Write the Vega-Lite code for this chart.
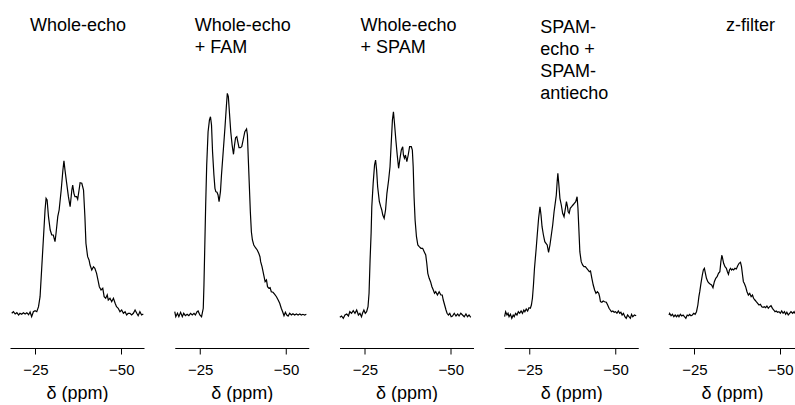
{
  "$schema": "https://vega.github.io/schema/vega-lite/v6.json",
  "padding": {"left": 9, "top": 17, "right": 0, "bottom": 0},
  "autosize": {"type": "pad"},
  "spacing": 30.75,
  "bounds": "flush",
  "config": {
    "view": {"stroke": null},
    "font": "Liberation Sans",
    "title": {"font": "Liberation Sans", "fontSize": 18, "fontWeight": "normal", "color": "black", "anchor": "start", "offset": 0, "lineHeight": 22, "frame": "group"},
    "axisX": {"grid": false, "domainColor": "black", "domainWidth": 1, "tickColor": "black", "tickWidth": 1, "tickSize": 6, "labelFont": "Liberation Sans", "labelFontSize": 15, "labelColor": "black", "labelPadding": 8, "titleFont": "Liberation Sans", "titleFontSize": 18, "titleFontWeight": "normal", "titleColor": "black", "titlePadding": 7},
    "line": {"color": "black", "strokeWidth": 1.2}
  },
  "datasets": {
    "p1": [
      {"ppm": -18.1, "intensity": -0.3}, {"ppm": -18.6, "intensity": 1.3}, {"ppm": -19.1, "intensity": -1}, {"ppm": -19.6, "intensity": 0.3}, {"ppm": -20.1, "intensity": -2}, {"ppm": -20.5, "intensity": -0.3}, {"ppm": -21.0, "intensity": -1.3}, {"ppm": -21.5, "intensity": 0.3}, {"ppm": -22.0, "intensity": -1}, {"ppm": -22.5, "intensity": 0.3}, {"ppm": -23.0, "intensity": -1.7}, {"ppm": -23.45, "intensity": 1}, {"ppm": -23.9, "intensity": -3.7}, {"ppm": -24.4, "intensity": 1.3}, {"ppm": -24.9, "intensity": 2.3}, {"ppm": -25.4, "intensity": 1.3}, {"ppm": -25.9, "intensity": 6.3}, {"ppm": -26.35, "intensity": 16.3}, {"ppm": -26.8, "intensity": 43}, {"ppm": -27.3, "intensity": 73}, {"ppm": -27.8, "intensity": 103}, {"ppm": -28.1, "intensity": 114.7}, {"ppm": -28.4, "intensity": 113}, {"ppm": -28.8, "intensity": 96.3}, {"ppm": -29.3, "intensity": 83}, {"ppm": -29.75, "intensity": 78}, {"ppm": -30.2, "intensity": 78}, {"ppm": -30.7, "intensity": 71.3}, {"ppm": -31.0, "intensity": 79.7}, {"ppm": -31.5, "intensity": 96.3}, {"ppm": -31.9, "intensity": 103}, {"ppm": -32.5, "intensity": 123}, {"ppm": -33.0, "intensity": 143}, {"ppm": -33.3, "intensity": 152.3}, {"ppm": -33.6, "intensity": 143}, {"ppm": -34.1, "intensity": 129.7}, {"ppm": -34.6, "intensity": 116.3}, {"ppm": -35.1, "intensity": 106.3}, {"ppm": -35.6, "intensity": 123}, {"ppm": -35.85, "intensity": 128}, {"ppm": -36.2, "intensity": 119.7}, {"ppm": -36.5, "intensity": 116.3}, {"ppm": -37.0, "intensity": 116.3}, {"ppm": -37.3, "intensity": 113.7}, {"ppm": -37.7, "intensity": 123}, {"ppm": -38.0, "intensity": 130.3}, {"ppm": -38.5, "intensity": 129.7}, {"ppm": -39.0, "intensity": 123}, {"ppm": -39.4, "intensity": 96.3}, {"ppm": -39.7, "intensity": 69.7}, {"ppm": -40.2, "intensity": 56.3}, {"ppm": -40.6, "intensity": 53}, {"ppm": -40.9, "intensity": 48}, {"ppm": -41.4, "intensity": 43}, {"ppm": -41.9, "intensity": 46.3}, {"ppm": -42.3, "intensity": 44.7}, {"ppm": -42.8, "intensity": 39.7}, {"ppm": -43.3, "intensity": 31.3}, {"ppm": -43.6, "intensity": 26.3}, {"ppm": -44.1, "intensity": 23}, {"ppm": -44.6, "intensity": 24.7}, {"ppm": -45.0, "intensity": 16.3}, {"ppm": -45.45, "intensity": 14.7}, {"ppm": -45.9, "intensity": 18}, {"ppm": -46.2, "intensity": 13}, {"ppm": -46.7, "intensity": 14.7}, {"ppm": -47.2, "intensity": 11.3}, {"ppm": -47.7, "intensity": 14.7}, {"ppm": -48.2, "intensity": 9.7}, {"ppm": -48.6, "intensity": 6.3}, {"ppm": -49.1, "intensity": 4.7}, {"ppm": -49.6, "intensity": 1.3}, {"ppm": -50.1, "intensity": 3}, {"ppm": -50.6, "intensity": -0.3}, {"ppm": -51.1, "intensity": 1.3}, {"ppm": -51.55, "intensity": -2}, {"ppm": -52.0, "intensity": -0.3}, {"ppm": -52.5, "intensity": -0.3}, {"ppm": -53.0, "intensity": -2}, {"ppm": -53.5, "intensity": -0.3}, {"ppm": -54.0, "intensity": 3}, {"ppm": -54.5, "intensity": -0.3}, {"ppm": -54.9, "intensity": -2.7}, {"ppm": -55.4, "intensity": 1.3}, {"ppm": -55.9, "intensity": -2}, {"ppm": -56.4, "intensity": -1}
    ],
    "p2": [
      {"ppm": -17.6, "intensity": 1.3}, {"ppm": -17.9, "intensity": -3.7}, {"ppm": -18.4, "intensity": -0.3}, {"ppm": -18.8, "intensity": -3.7}, {"ppm": -19.3, "intensity": 0.7}, {"ppm": -19.8, "intensity": -3.7}, {"ppm": -20.2, "intensity": -0.3}, {"ppm": -20.7, "intensity": -2.7}, {"ppm": -21.2, "intensity": -1.3}, {"ppm": -21.7, "intensity": -2.7}, {"ppm": -22.2, "intensity": -0.3}, {"ppm": -22.7, "intensity": -2}, {"ppm": -23.2, "intensity": -0.3}, {"ppm": -23.6, "intensity": -2}, {"ppm": -24.1, "intensity": 1.3}, {"ppm": -24.4, "intensity": 2}, {"ppm": -24.9, "intensity": -2}, {"ppm": -25.4, "intensity": -3.7}, {"ppm": -25.9, "intensity": 4.7}, {"ppm": -26.1, "intensity": 28}, {"ppm": -26.35, "intensity": 68}, {"ppm": -26.6, "intensity": 108}, {"ppm": -26.9, "intensity": 148}, {"ppm": -27.3, "intensity": 181.3}, {"ppm": -27.7, "intensity": 193}, {"ppm": -28.0, "intensity": 196.3}, {"ppm": -28.3, "intensity": 188}, {"ppm": -28.6, "intensity": 161.3}, {"ppm": -29.0, "intensity": 138}, {"ppm": -29.3, "intensity": 124.7}, {"ppm": -29.55, "intensity": 121.3}, {"ppm": -29.9, "intensity": 120.7}, {"ppm": -30.2, "intensity": 118}, {"ppm": -30.5, "intensity": 111.3}, {"ppm": -30.9, "intensity": 121.3}, {"ppm": -31.2, "intensity": 138}, {"ppm": -31.7, "intensity": 161.3}, {"ppm": -32.2, "intensity": 184.7}, {"ppm": -32.65, "intensity": 208}, {"ppm": -32.9, "intensity": 219.7}, {"ppm": -33.2, "intensity": 216.3}, {"ppm": -33.5, "intensity": 201.3}, {"ppm": -33.9, "intensity": 181.3}, {"ppm": -34.3, "intensity": 168}, {"ppm": -34.7, "intensity": 158.7}, {"ppm": -35.0, "intensity": 168}, {"ppm": -35.3, "intensity": 175.3}, {"ppm": -35.65, "intensity": 176.3}, {"ppm": -36.05, "intensity": 169.7}, {"ppm": -36.3, "intensity": 165.3}, {"ppm": -36.7, "intensity": 165.3}, {"ppm": -37.1, "intensity": 166.3}, {"ppm": -37.5, "intensity": 173}, {"ppm": -38.0, "intensity": 181.3}, {"ppm": -38.5, "intensity": 184}, {"ppm": -38.75, "intensity": 178}, {"ppm": -39.0, "intensity": 154.7}, {"ppm": -39.3, "intensity": 128}, {"ppm": -39.6, "intensity": 101.3}, {"ppm": -39.9, "intensity": 81.3}, {"ppm": -40.2, "intensity": 73}, {"ppm": -40.6, "intensity": 68}, {"ppm": -41.1, "intensity": 65.3}, {"ppm": -41.6, "intensity": 63}, {"ppm": -42.05, "intensity": 59.7}, {"ppm": -42.4, "intensity": 56.3}, {"ppm": -42.6, "intensity": 51.3}, {"ppm": -43.0, "intensity": 46.3}, {"ppm": -43.3, "intensity": 41.3}, {"ppm": -43.6, "intensity": 36.3}, {"ppm": -43.9, "intensity": 31.3}, {"ppm": -44.3, "intensity": 33}, {"ppm": -44.6, "intensity": 26.3}, {"ppm": -45.0, "intensity": 24.7}, {"ppm": -45.35, "intensity": 25.3}, {"ppm": -45.7, "intensity": 21.3}, {"ppm": -46.2, "intensity": 20.7}, {"ppm": -46.7, "intensity": 18.7}, {"ppm": -47.2, "intensity": 16.3}, {"ppm": -47.7, "intensity": 13}, {"ppm": -48.15, "intensity": 9.7}, {"ppm": -48.6, "intensity": 4.7}, {"ppm": -49.0, "intensity": 1.3}, {"ppm": -49.4, "intensity": -2.7}, {"ppm": -49.8, "intensity": 0.7}, {"ppm": -50.2, "intensity": -2}, {"ppm": -50.6, "intensity": -3}, {"ppm": -51.05, "intensity": -0.3}, {"ppm": -51.55, "intensity": -2}, {"ppm": -52.0, "intensity": -0.7}, {"ppm": -52.5, "intensity": -2}, {"ppm": -53.0, "intensity": -1}, {"ppm": -53.5, "intensity": -2}, {"ppm": -54.0, "intensity": -1}, {"ppm": -54.45, "intensity": -2}, {"ppm": -54.9, "intensity": -1.3}, {"ppm": -55.4, "intensity": -2}, {"ppm": -55.9, "intensity": -1.3}
    ],
    "p3": [
      {"ppm": -17.7, "intensity": -4.3}, {"ppm": -18.2, "intensity": -3}, {"ppm": -18.7, "intensity": -5.3}, {"ppm": -19.2, "intensity": -2}, {"ppm": -19.7, "intensity": -1}, {"ppm": -20.2, "intensity": -3}, {"ppm": -20.6, "intensity": 1.3}, {"ppm": -21.1, "intensity": -0.3}, {"ppm": -21.6, "intensity": 2.3}, {"ppm": -22.1, "intensity": -0.3}, {"ppm": -22.6, "intensity": 3}, {"ppm": -23.1, "intensity": -2}, {"ppm": -23.55, "intensity": -0.3}, {"ppm": -24.0, "intensity": -3.7}, {"ppm": -24.3, "intensity": -0.3}, {"ppm": -24.7, "intensity": 3}, {"ppm": -25.1, "intensity": -0.3}, {"ppm": -25.5, "intensity": 1.3}, {"ppm": -25.9, "intensity": 6.3}, {"ppm": -26.2, "intensity": 19.7}, {"ppm": -26.5, "intensity": 53}, {"ppm": -26.8, "intensity": 79.7}, {"ppm": -27.0, "intensity": 106.3}, {"ppm": -27.4, "intensity": 129.7}, {"ppm": -27.8, "intensity": 148}, {"ppm": -28.1, "intensity": 153}, {"ppm": -28.4, "intensity": 143}, {"ppm": -28.7, "intensity": 126.3}, {"ppm": -29.2, "intensity": 111.3}, {"ppm": -29.6, "intensity": 106.3}, {"ppm": -29.9, "intensity": 103}, {"ppm": -30.2, "intensity": 98}, {"ppm": -30.6, "intensity": 94.7}, {"ppm": -31.0, "intensity": 103}, {"ppm": -31.4, "intensity": 119.7}, {"ppm": -31.9, "intensity": 133}, {"ppm": -32.3, "intensity": 146.3}, {"ppm": -32.7, "intensity": 173}, {"ppm": -33.0, "intensity": 193}, {"ppm": -33.3, "intensity": 201.3}, {"ppm": -33.6, "intensity": 189.7}, {"ppm": -34.0, "intensity": 173}, {"ppm": -34.4, "intensity": 158}, {"ppm": -34.8, "intensity": 144.7}, {"ppm": -35.2, "intensity": 154.7}, {"ppm": -35.6, "intensity": 163}, {"ppm": -36.0, "intensity": 166.3}, {"ppm": -36.2, "intensity": 158}, {"ppm": -36.5, "intensity": 154.7}, {"ppm": -36.8, "intensity": 158}, {"ppm": -37.2, "intensity": 151.3}, {"ppm": -37.6, "intensity": 158}, {"ppm": -38.0, "intensity": 166.3}, {"ppm": -38.5, "intensity": 166.3}, {"ppm": -38.8, "intensity": 163}, {"ppm": -39.05, "intensity": 146.3}, {"ppm": -39.3, "intensity": 116.3}, {"ppm": -39.6, "intensity": 93}, {"ppm": -40.0, "intensity": 76.3}, {"ppm": -40.4, "intensity": 68}, {"ppm": -40.8, "intensity": 66.3}, {"ppm": -41.3, "intensity": 64.7}, {"ppm": -41.8, "intensity": 64.7}, {"ppm": -42.25, "intensity": 61.3}, {"ppm": -42.7, "intensity": 58}, {"ppm": -43.0, "intensity": 49.7}, {"ppm": -43.3, "intensity": 39.7}, {"ppm": -43.7, "intensity": 34.7}, {"ppm": -44.1, "intensity": 31.3}, {"ppm": -44.5, "intensity": 26.3}, {"ppm": -44.9, "intensity": 23}, {"ppm": -45.25, "intensity": 19.7}, {"ppm": -45.6, "intensity": 21.3}, {"ppm": -46.1, "intensity": 18}, {"ppm": -46.6, "intensity": 21.3}, {"ppm": -47.1, "intensity": 18}, {"ppm": -47.5, "intensity": 18}, {"ppm": -47.8, "intensity": 13}, {"ppm": -48.2, "intensity": 8}, {"ppm": -48.6, "intensity": 3}, {"ppm": -48.9, "intensity": -0.3}, {"ppm": -49.3, "intensity": -2}, {"ppm": -49.7, "intensity": -0.3}, {"ppm": -50.1, "intensity": -3.7}, {"ppm": -50.5, "intensity": -3}, {"ppm": -51.0, "intensity": -0.3}, {"ppm": -51.5, "intensity": -3}, {"ppm": -52.0, "intensity": -1}, {"ppm": -52.4, "intensity": -3}, {"ppm": -52.9, "intensity": -0.3}, {"ppm": -53.4, "intensity": -2}, {"ppm": -53.9, "intensity": -3.7}, {"ppm": -54.4, "intensity": -1}, {"ppm": -54.85, "intensity": -3.7}, {"ppm": -55.3, "intensity": -2}, {"ppm": -55.8, "intensity": -4.3}
    ],
    "p4": [
      {"ppm": -17.7, "intensity": -3.7}, {"ppm": -18.0, "intensity": 1.3}, {"ppm": -18.4, "intensity": -2}, {"ppm": -18.7, "intensity": -0.3}, {"ppm": -19.0, "intensity": -3.7}, {"ppm": -19.4, "intensity": -1.3}, {"ppm": -19.8, "intensity": -5.3}, {"ppm": -20.2, "intensity": -2}, {"ppm": -20.5, "intensity": -3.7}, {"ppm": -20.9, "intensity": -0.3}, {"ppm": -21.3, "intensity": -2}, {"ppm": -21.7, "intensity": 1.3}, {"ppm": -22.1, "intensity": -0.3}, {"ppm": -22.5, "intensity": 2}, {"ppm": -22.9, "intensity": -0.3}, {"ppm": -23.3, "intensity": 3}, {"ppm": -23.6, "intensity": 1.3}, {"ppm": -24.0, "intensity": 4}, {"ppm": -24.4, "intensity": 2}, {"ppm": -24.8, "intensity": 5.3}, {"ppm": -25.2, "intensity": 4.7}, {"ppm": -25.5, "intensity": 8}, {"ppm": -25.8, "intensity": 14.7}, {"ppm": -26.1, "intensity": 28}, {"ppm": -26.4, "intensity": 44.7}, {"ppm": -26.65, "intensity": 54.7}, {"ppm": -26.9, "intensity": 64.7}, {"ppm": -27.2, "intensity": 78}, {"ppm": -27.6, "intensity": 94.7}, {"ppm": -28.0, "intensity": 106.3}, {"ppm": -28.3, "intensity": 98}, {"ppm": -28.6, "intensity": 86.3}, {"ppm": -29.0, "intensity": 78}, {"ppm": -29.4, "intensity": 71.3}, {"ppm": -29.75, "intensity": 69.7}, {"ppm": -30.1, "intensity": 68}, {"ppm": -30.5, "intensity": 60.7}, {"ppm": -30.9, "intensity": 68}, {"ppm": -31.3, "intensity": 78}, {"ppm": -31.7, "intensity": 88}, {"ppm": -32.1, "intensity": 101.3}, {"ppm": -32.5, "intensity": 111.3}, {"ppm": -32.75, "intensity": 118}, {"ppm": -33.0, "intensity": 131.3}, {"ppm": -33.2, "intensity": 139.7}, {"ppm": -33.5, "intensity": 128}, {"ppm": -33.8, "intensity": 114.7}, {"ppm": -34.2, "intensity": 108}, {"ppm": -34.6, "intensity": 99.7}, {"ppm": -35.0, "intensity": 96.3}, {"ppm": -35.4, "intensity": 104.7}, {"ppm": -35.7, "intensity": 111.3}, {"ppm": -36.0, "intensity": 106.3}, {"ppm": -36.2, "intensity": 101.3}, {"ppm": -36.5, "intensity": 99.7}, {"ppm": -36.8, "intensity": 104.7}, {"ppm": -37.2, "intensity": 106.3}, {"ppm": -37.6, "intensity": 108}, {"ppm": -38.0, "intensity": 109.7}, {"ppm": -38.4, "intensity": 111.3}, {"ppm": -38.8, "intensity": 116.3}, {"ppm": -39.05, "intensity": 104.7}, {"ppm": -39.35, "intensity": 81.3}, {"ppm": -39.6, "intensity": 61.3}, {"ppm": -40.0, "intensity": 51.3}, {"ppm": -40.4, "intensity": 48}, {"ppm": -40.8, "intensity": 46.3}, {"ppm": -41.2, "intensity": 46.3}, {"ppm": -41.6, "intensity": 44.7}, {"ppm": -42.0, "intensity": 43}, {"ppm": -42.35, "intensity": 41.3}, {"ppm": -42.7, "intensity": 42}, {"ppm": -43.1, "intensity": 34.7}, {"ppm": -43.5, "intensity": 28}, {"ppm": -43.9, "intensity": 23}, {"ppm": -44.3, "intensity": 19.7}, {"ppm": -44.7, "intensity": 21.3}, {"ppm": -45.1, "intensity": 19.7}, {"ppm": -45.35, "intensity": 16.3}, {"ppm": -45.6, "intensity": 11.3}, {"ppm": -46.0, "intensity": 10.7}, {"ppm": -46.4, "intensity": 12}, {"ppm": -46.8, "intensity": 11.3}, {"ppm": -47.3, "intensity": 10.7}, {"ppm": -47.7, "intensity": 8}, {"ppm": -48.1, "intensity": 4.7}, {"ppm": -48.45, "intensity": 3}, {"ppm": -48.8, "intensity": 1.3}, {"ppm": -49.2, "intensity": 2}, {"ppm": -49.6, "intensity": 0.7}, {"ppm": -50.0, "intensity": 1.3}, {"ppm": -50.4, "intensity": -0.3}, {"ppm": -50.8, "intensity": 2}, {"ppm": -51.2, "intensity": -0.3}, {"ppm": -51.55, "intensity": 0.7}, {"ppm": -51.9, "intensity": -2}, {"ppm": -52.3, "intensity": -0.3}, {"ppm": -52.7, "intensity": -3.7}, {"ppm": -53.1, "intensity": -5.3}, {"ppm": -53.5, "intensity": -2}, {"ppm": -53.9, "intensity": -3.7}, {"ppm": -54.3, "intensity": -5.3}, {"ppm": -54.65, "intensity": -1.3}, {"ppm": -55.0, "intensity": -3.7}, {"ppm": -55.5, "intensity": -2}, {"ppm": -56.0, "intensity": -2.7}
    ],
    "p5": [
      {"ppm": -17.6, "intensity": -2}, {"ppm": -17.8, "intensity": -0.3}, {"ppm": -18.2, "intensity": -2.7}, {"ppm": -18.6, "intensity": -1.3}, {"ppm": -19.0, "intensity": -3.7}, {"ppm": -19.4, "intensity": -2}, {"ppm": -19.8, "intensity": -3.7}, {"ppm": -20.2, "intensity": -2}, {"ppm": -20.5, "intensity": -3.7}, {"ppm": -20.9, "intensity": -1.3}, {"ppm": -21.3, "intensity": -3}, {"ppm": -21.7, "intensity": -2}, {"ppm": -22.1, "intensity": -3.7}, {"ppm": -22.5, "intensity": -5.3}, {"ppm": -22.9, "intensity": -2}, {"ppm": -23.3, "intensity": -2.7}, {"ppm": -23.6, "intensity": -1.3}, {"ppm": -24.0, "intensity": -2.7}, {"ppm": -24.4, "intensity": -2}, {"ppm": -24.8, "intensity": -0.3}, {"ppm": -25.2, "intensity": -1.3}, {"ppm": -25.6, "intensity": 1.3}, {"ppm": -26.0, "intensity": 8}, {"ppm": -26.3, "intensity": 16.3}, {"ppm": -26.55, "intensity": 21.3}, {"ppm": -26.9, "intensity": 29.7}, {"ppm": -27.3, "intensity": 38}, {"ppm": -27.6, "intensity": 43}, {"ppm": -27.9, "intensity": 44.7}, {"ppm": -28.2, "intensity": 39.7}, {"ppm": -28.5, "intensity": 34.7}, {"ppm": -28.9, "intensity": 31.3}, {"ppm": -29.3, "intensity": 29.7}, {"ppm": -29.65, "intensity": 28.7}, {"ppm": -30.0, "intensity": 28}, {"ppm": -30.4, "intensity": 25.3}, {"ppm": -30.8, "intensity": 31.3}, {"ppm": -31.2, "intensity": 34.7}, {"ppm": -31.6, "intensity": 36.3}, {"ppm": -32.0, "intensity": 39.7}, {"ppm": -32.4, "intensity": 41.3}, {"ppm": -32.7, "intensity": 51.3}, {"ppm": -33.0, "intensity": 58}, {"ppm": -33.2, "intensity": 54.7}, {"ppm": -33.5, "intensity": 49.7}, {"ppm": -33.9, "intensity": 46.3}, {"ppm": -34.3, "intensity": 44.7}, {"ppm": -34.6, "intensity": 41.3}, {"ppm": -34.9, "intensity": 38.7}, {"ppm": -35.2, "intensity": 43}, {"ppm": -35.5, "intensity": 44.7}, {"ppm": -35.8, "intensity": 43}, {"ppm": -36.05, "intensity": 44}, {"ppm": -36.4, "intensity": 43}, {"ppm": -36.8, "intensity": 44.7}, {"ppm": -37.2, "intensity": 44}, {"ppm": -37.6, "intensity": 47.3}, {"ppm": -38.0, "intensity": 49.7}, {"ppm": -38.4, "intensity": 50.7}, {"ppm": -38.7, "intensity": 46.3}, {"ppm": -39.0, "intensity": 38}, {"ppm": -39.25, "intensity": 31.3}, {"ppm": -39.5, "intensity": 29.7}, {"ppm": -39.9, "intensity": 26.3}, {"ppm": -40.3, "intensity": 21.3}, {"ppm": -40.7, "intensity": 18}, {"ppm": -41.1, "intensity": 19.7}, {"ppm": -41.5, "intensity": 16.3}, {"ppm": -41.9, "intensity": 18}, {"ppm": -42.2, "intensity": 14.7}, {"ppm": -42.6, "intensity": 13}, {"ppm": -43.0, "intensity": 11.3}, {"ppm": -43.4, "intensity": 9.7}, {"ppm": -43.8, "intensity": 8}, {"ppm": -44.2, "intensity": 8.7}, {"ppm": -44.6, "intensity": 6.3}, {"ppm": -45.0, "intensity": 5.7}, {"ppm": -45.35, "intensity": 6.3}, {"ppm": -45.7, "intensity": 5.3}, {"ppm": -46.1, "intensity": 7}, {"ppm": -46.5, "intensity": 4.7}, {"ppm": -46.9, "intensity": 6.3}, {"ppm": -47.3, "intensity": 7.3}, {"ppm": -47.7, "intensity": 4.7}, {"ppm": -48.1, "intensity": 3}, {"ppm": -48.45, "intensity": 1.3}, {"ppm": -48.8, "intensity": 2}, {"ppm": -49.2, "intensity": 0.7}, {"ppm": -49.6, "intensity": 1.3}, {"ppm": -50.0, "intensity": -0.3}, {"ppm": -50.4, "intensity": 2}, {"ppm": -50.8, "intensity": -0.3}, {"ppm": -51.2, "intensity": 1.3}, {"ppm": -51.55, "intensity": -1.3}, {"ppm": -51.9, "intensity": 0.7}, {"ppm": -52.3, "intensity": -2}, {"ppm": -52.7, "intensity": -0.3}, {"ppm": -53.1, "intensity": 1.3}, {"ppm": -53.6, "intensity": -0.3}, {"ppm": -54.0, "intensity": 1.3}, {"ppm": -54.25, "intensity": -0.5}
    ]
  },
  "hconcat": [
    {
      "width": 134, "height": 313,
      "data": {"name": "p1"},
      "title": {"text": "Whole-echo", "dx": 20, "offset": 0},
      "mark": {"type": "line"},
      "encoding": {
        "x": {"field": "ppm", "type": "quantitative", "scale": {"domain": [-17.6, -56.6]}, "axis": {"values": [-25, -50], "title": "δ (ppm)"}},
        "y": {"field": "intensity", "type": "quantitative", "scale": {"domain": [-35, 278]}, "axis": null}
      }
    },
    {
      "width": 134, "height": 313,
      "data": {"name": "p2"},
      "title": {"text": ["Whole-echo", "+ FAM"], "dx": 20, "offset": -22},
      "mark": {"type": "line"},
      "encoding": {
        "x": {"field": "ppm", "type": "quantitative", "scale": {"domain": [-17.6, -56.6]}, "axis": {"values": [-25, -50], "title": "δ (ppm)"}},
        "y": {"field": "intensity", "type": "quantitative", "scale": {"domain": [-35, 278]}, "axis": null}
      }
    },
    {
      "width": 134, "height": 313,
      "data": {"name": "p3"},
      "title": {"text": ["Whole-echo", "+ SPAM"], "dx": 21, "offset": -22},
      "mark": {"type": "line"},
      "encoding": {
        "x": {"field": "ppm", "type": "quantitative", "scale": {"domain": [-17.6, -56.6]}, "axis": {"values": [-25, -50], "title": "δ (ppm)"}},
        "y": {"field": "intensity", "type": "quantitative", "scale": {"domain": [-35, 278]}, "axis": null}
      }
    },
    {
      "width": 134, "height": 313,
      "data": {"name": "p4"},
      "title": {"text": ["SPAM-", "echo +", "SPAM-", "antiecho"], "dx": 36, "offset": -68},
      "mark": {"type": "line"},
      "encoding": {
        "x": {"field": "ppm", "type": "quantitative", "scale": {"domain": [-17.6, -56.6]}, "axis": {"values": [-25, -50], "title": "δ (ppm)"}},
        "y": {"field": "intensity", "type": "quantitative", "scale": {"domain": [-35, 278]}, "axis": null}
      }
    },
    {
      "width": 126, "height": 313,
      "data": {"name": "p5"},
      "title": {"text": "z-filter", "dx": 57, "offset": 0},
      "mark": {"type": "line"},
      "encoding": {
        "x": {"field": "ppm", "type": "quantitative", "scale": {"domain": [-17.6, -54.27]}, "axis": {"values": [-25, -50], "title": "δ (ppm)"}},
        "y": {"field": "intensity", "type": "quantitative", "scale": {"domain": [-35, 278]}, "axis": null}
      }
    }
  ]
}
